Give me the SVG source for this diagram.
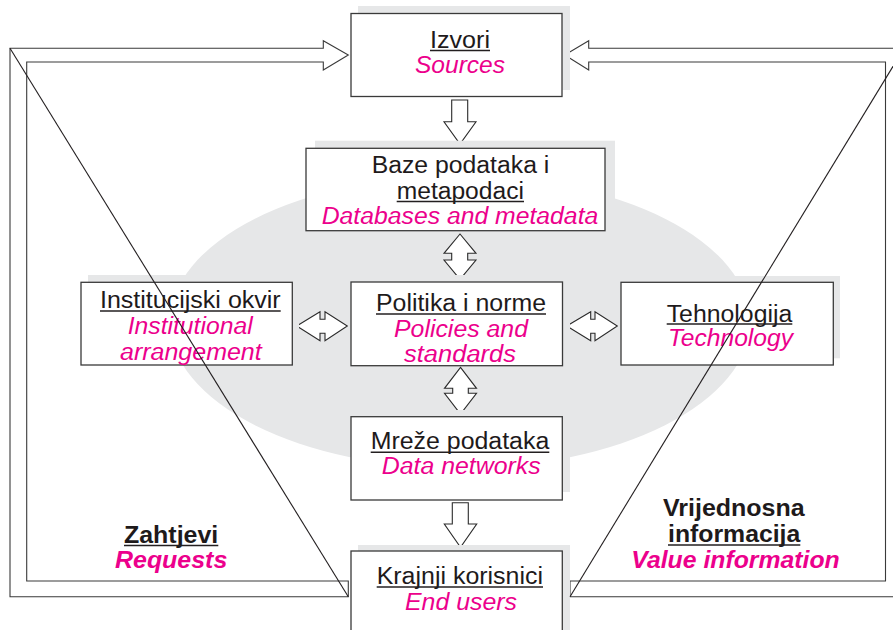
<svg xmlns="http://www.w3.org/2000/svg" width="893" height="630" viewBox="0 0 893 630">
<style>
.bg{fill:#ffffff}
.ell{fill:#e6e7e8}
.shadow{fill:#e6e7e8}
.box{fill:#ffffff;stroke:#3a3a3a;stroke-width:1.3}
.blk{fill:#ffffff;stroke:#2b2b2b;stroke-width:1.1;stroke-linejoin:miter}
.band{fill:#ffffff;stroke:#3a3a3a;stroke-width:1.1}
.diag{stroke:#231f20;stroke-width:1.1;fill:none}
.ul{stroke:#231f20;stroke-width:1.6}
.t{font-family:"Liberation Sans",Arial,sans-serif;font-size:23px;fill:#1e1a1b}
.m{font-family:"Liberation Sans",Arial,sans-serif;font-size:23px;fill:#ec008c;font-style:italic}
.b{font-weight:bold}
</style>
<rect class="bg" x="0" y="0" width="893" height="630"/>
<ellipse class="ell" cx="460" cy="322" rx="290" ry="146"/>

<g id="connectors">
  <polygon class="band" points="348.3,581 26.7,581 26.7,62 323.3,62 323.3,70 348.3,55 323.3,40.7 323.3,48.3 10,48.3 10,596.7 348.3,596.7"/>
  <polygon class="band" points="570,581 885.5,581 885.5,62 588.7,62 588.7,70 564.7,55 588.7,40.7 588.7,48.3 903,48.3 903,596.7 570,596.7"/>
  <polygon class="blk" points="451.7,100 467.7,100 467.7,121.7 476,121.7 460,144 444,121.7 451.7,121.7"/>
  <polygon class="blk" points="460,234 476,253.3 467.7,253.3 467.7,260 476,260 460,279.3 444,260 451.7,260 451.7,253.3 444,253.3"/>
  <polygon class="blk" points="460.5,367.3 476.5,388.3 468.3,388.3 468.3,393.3 476.5,393.3 460.5,414 444.5,393.3 452.7,393.3 452.7,388.3 444.5,388.3"/>
  <polygon class="blk" points="452.3,502.7 468.3,502.7 468.3,524 476.7,524 460.5,547.3 444.3,524 452.3,524"/>
  <polygon class="blk" points="296.7,326 320,311.7 320,319.3 325,319.3 325,311.7 347.3,326 325,340.7 325,333.3 320,333.3 320,340.7"/>
  <polygon class="blk" points="566.7,326 590.7,311.7 590.7,319.3 595,319.3 595,311.7 617.3,326 595,340.7 595,333.3 590.7,333.3 590.7,340.7"/>
</g>

<g id="izvori">
  <rect class="shadow" x="358" y="6" width="212" height="84"/>
  <rect class="box" x="351" y="13.5" width="211" height="83"/>
  <text class="t" x="430" y="48" textLength="60" lengthAdjust="spacingAndGlyphs">Izvori</text>
  <line class="ul" x1="430" y1="50.5" x2="490" y2="50.5"/>
  <text class="m" x="415" y="73.3" textLength="90" lengthAdjust="spacingAndGlyphs">Sources</text>
</g>

<g id="baze">
  <rect class="shadow" x="315" y="140.7" width="300" height="83"/>
  <rect class="box" x="306" y="148.3" width="299" height="82.4"/>
  <text class="t" x="371.7" y="173.3" textLength="177.6" lengthAdjust="spacingAndGlyphs">Baze podataka i</text>
  <text class="t" x="396.7" y="199" textLength="127.3" lengthAdjust="spacingAndGlyphs">metapodaci</text>
  <line class="ul" x1="396.7" y1="201.5" x2="524" y2="201.5"/>
  <text class="m" x="321.7" y="224" textLength="276.6" lengthAdjust="spacingAndGlyphs">Databases and metadata</text>
</g>

<g id="institucijski">
  <rect class="shadow" x="88" y="275" width="211" height="83"/>
  <rect class="box" x="81" y="282.3" width="211.3" height="82.7"/>
  <text class="t" x="100" y="307.7" textLength="180.7" lengthAdjust="spacingAndGlyphs">Institucijski okvir</text>
  <line class="ul" x1="100" y1="311" x2="280.7" y2="311"/>
  <text class="m" x="127.7" y="334" textLength="125" lengthAdjust="spacingAndGlyphs">Institutional</text>
  <text class="m" x="120" y="359.5" textLength="141.7" lengthAdjust="spacingAndGlyphs">arrangement</text>
</g>

<g id="politika">
  <rect class="shadow" x="358" y="275" width="212" height="84"/>
  <rect class="box" x="351" y="282" width="211.5" height="83.7"/>
  <text class="t" x="376" y="311" textLength="170" lengthAdjust="spacingAndGlyphs">Politika i norme</text>
  <line class="ul" x1="376" y1="314" x2="546" y2="314"/>
  <text class="m" x="394" y="337" textLength="134" lengthAdjust="spacingAndGlyphs">Policies and</text>
  <text class="m" x="404" y="362" textLength="112" lengthAdjust="spacingAndGlyphs">standards</text>
</g>

<g id="tehnologija">
  <rect class="shadow" x="628" y="276" width="212" height="82.3"/>
  <rect class="box" x="621" y="282.3" width="212.3" height="82.7"/>
  <text class="t" x="666.7" y="321.7" textLength="125.6" lengthAdjust="spacingAndGlyphs">Tehnologija</text>
  <line class="ul" x1="666.7" y1="324" x2="792.3" y2="324"/>
  <text class="m" x="668" y="346" textLength="125" lengthAdjust="spacingAndGlyphs">Technology</text>
</g>

<g id="mreze">
  <rect class="shadow" x="358" y="410" width="212" height="82"/>
  <rect class="box" x="351" y="416.7" width="211.3" height="83.3"/>
  <text class="t" x="370.7" y="449.3" textLength="178.6" lengthAdjust="spacingAndGlyphs">Mreže podataka</text>
  <line class="ul" x1="370.7" y1="452.3" x2="549.3" y2="452.3"/>
  <text class="m" x="381.7" y="474" textLength="159" lengthAdjust="spacingAndGlyphs">Data networks</text>
</g>

<g id="krajnji">
  <rect class="shadow" x="358" y="545" width="212" height="90"/>
  <rect class="box" x="351" y="551" width="211.3" height="90"/>
  <text class="t" x="376.7" y="584" textLength="166.3" lengthAdjust="spacingAndGlyphs">Krajnji korisnici</text>
  <line class="ul" x1="376.7" y1="587" x2="543" y2="587"/>
  <text class="m" x="405" y="610" textLength="112" lengthAdjust="spacingAndGlyphs">End users</text>
</g>

<g id="zahtjevi">
  <text class="t b" x="124" y="542.7" textLength="94.3" lengthAdjust="spacingAndGlyphs">Zahtjevi</text>
  <line class="ul" x1="124" y1="545.5" x2="218.3" y2="545.5"/>
  <text class="m b" x="115" y="568.3" textLength="112.3" lengthAdjust="spacingAndGlyphs">Requests</text>
</g>

<g id="vrijednosna">
  <text class="t b" x="663" y="516" textLength="141.7" lengthAdjust="spacingAndGlyphs">Vrijednosna</text>
  <text class="t b" x="668" y="541.7" textLength="132.3" lengthAdjust="spacingAndGlyphs">informacija</text>
  <line class="ul" x1="668" y1="545" x2="800.3" y2="545"/>
  <text class="m b" x="631.3" y="568.3" textLength="208.4" lengthAdjust="spacingAndGlyphs">Value information</text>
</g>

<g id="diagonals">
  <line class="diag" x1="10" y1="48.3" x2="348.3" y2="596.7"/>
  <line class="diag" x1="904" y1="48.3" x2="570" y2="596.7"/>
</g>
</svg>
